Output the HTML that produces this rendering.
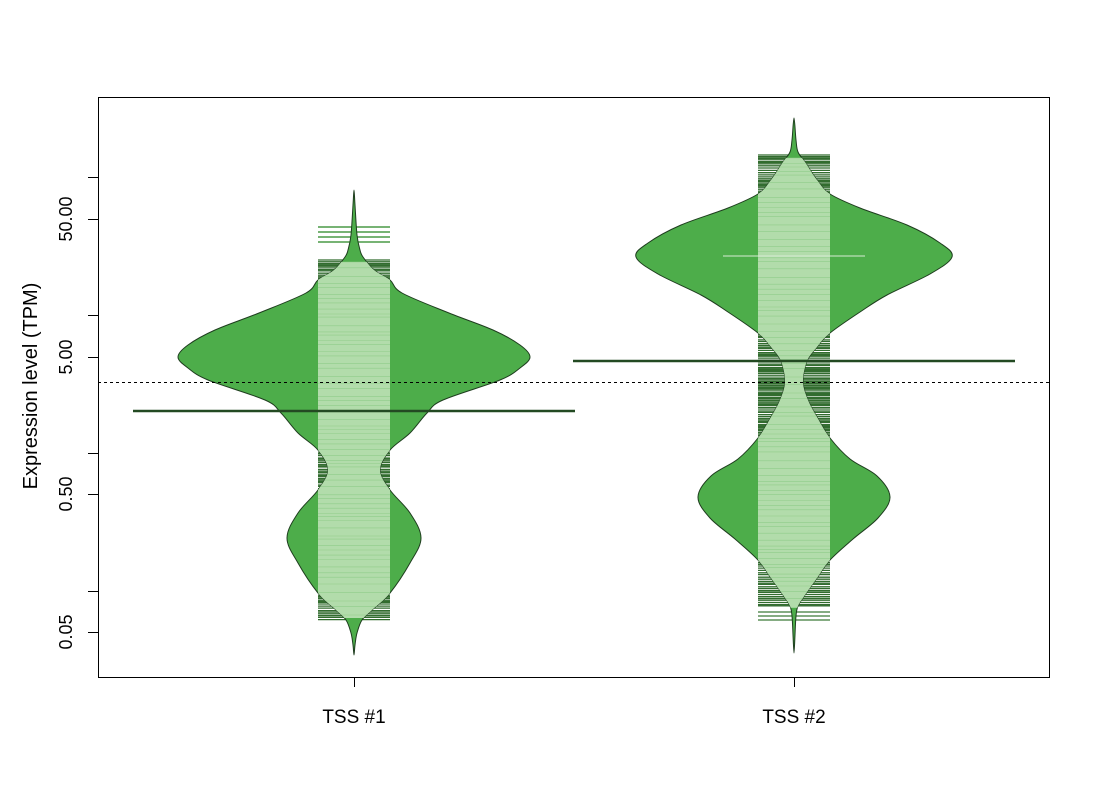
<!DOCTYPE html>
<html><head><meta charset="utf-8"><style>
html,body{margin:0;padding:0;background:#fff;width:1100px;height:800px;overflow:hidden}
svg{display:block}
text{font-family:"Liberation Sans",Arial,sans-serif;fill:#000}
</style></head><body>
<svg id="s" width="1100" height="800" viewBox="0 0 1100 800" xmlns="http://www.w3.org/2000/svg">
<defs>
<clipPath id="c1"><path id="cp1"/></clipPath>
<clipPath id="c2"><path id="cp2"/></clipPath>
</defs>
<g id="dark"></g>
<path id="b1" fill="#4dad4a" stroke="#1e3d1e" stroke-width="1"/>
<path id="b2" fill="#4dad4a" stroke="#1e3d1e" stroke-width="1"/>
<g clip-path="url(#c1)"><rect x="318" y="262" width="72" height="356" fill="#b2dcab"/><g id="l1"></g></g>
<g clip-path="url(#c2)"><rect x="758" y="158" width="72" height="450" fill="#b2dcab"/><g id="l2"></g></g>
<line x1="723" y1="256" x2="865" y2="256" stroke="#d8ecd4" stroke-width="1"/>
<line x1="98" y1="382.5" x2="1049" y2="382.5" stroke="#000" stroke-width="1" stroke-dasharray="3,3"/>
<line x1="133" y1="411" x2="575" y2="411" stroke="#234a22" stroke-width="2.5"/>
<line x1="573" y1="361" x2="1015" y2="361" stroke="#234a22" stroke-width="2.5"/>
<rect x="98.5" y="97.5" width="951" height="580" fill="none" stroke="#000" stroke-width="1"/>
<g stroke="#000" stroke-width="1">
<line x1="88" y1="177.5" x2="98" y2="177.5"/><line x1="88" y1="219.5" x2="98" y2="219.5"/>
<line x1="88" y1="315.5" x2="98" y2="315.5"/><line x1="88" y1="357.5" x2="98" y2="357.5"/>
<line x1="88" y1="453.5" x2="98" y2="453.5"/><line x1="88" y1="494.5" x2="98" y2="494.5"/>
<line x1="88" y1="591.5" x2="98" y2="591.5"/><line x1="88" y1="632.5" x2="98" y2="632.5"/>
<line x1="354.5" y1="677" x2="354.5" y2="687"/><line x1="794.5" y1="677" x2="794.5" y2="687"/>
</g>
<g text-anchor="middle">
<g font-size="18">
<text transform="translate(72,219) rotate(-90)">50.00</text>
<text transform="translate(72,357) rotate(-90)">5.00</text>
<text transform="translate(72,494) rotate(-90)">0.50</text>
<text transform="translate(72,632) rotate(-90)">0.05</text>
</g>
<text font-size="20" transform="translate(37,386) rotate(-90)">Expression level (TPM)</text>
<text font-size="19" x="354" y="723">TSS #1</text>
<text font-size="19" x="794" y="723">TSS #2</text>
</g>
</svg>
<script>
function path(cx,pts){
 var R=pts.map(p=>[cx+p[1],p[0]]), L=pts.slice().reverse().map(p=>[cx-p[1],p[0]]);
 var all=R.concat(L.slice(1,-1));
 var n=all.length, d="M"+all[0][0]+","+all[0][1];
 for(var i=0;i<n;i++){
  var p0=all[(i-1+n)%n],p1=all[i],p2=all[(i+1)%n],p3=all[(i+2)%n];
  var c1=[p1[0]+(p2[0]-p0[0])/6,p1[1]+(p2[1]-p0[1])/6];
  var c2=[p2[0]-(p3[0]-p1[0])/6,p2[1]-(p3[1]-p1[1])/6];
  d+="C"+c1[0].toFixed(1)+","+c1[1].toFixed(1)+" "+c2[0].toFixed(1)+","+c2[1].toFixed(1)+" "+p2[0].toFixed(1)+","+p2[1].toFixed(1);
 }
 return d+"Z";
}
var b1=[[190,0],[205,1],[235,3],[250,6],[257,9],[270,20],[280,36],[293,48],[313,95],[330,139],[345,166],[357,176],[368,166],[380,146],[400,89],[413,73],[433,56],[450,36],[470,26],[490,36],[513,56],[538,67],[563,56],[593,36],[610,18],[620,8],[633,3],[645,1],[655,0]];
var b2=[[118,0],[140,2],[152,4],[162,11],[180,23],[194,36],[208,66],[225,113],[243,146],[257,158],[274,136],[295,93],[312,66],[333,36],[347,23],[361,13],[382,9],[400,14],[417,23],[438,36],[459,56],[476,83],[497,96],[518,84],[539,59],[560,36],[578,23],[595,11],[606,4],[616,2],[635,1],[653,0]];
var d1=path(354,b1),d2=path(794,b2);
["b1","cp1"].forEach(i=>document.getElementById(i).setAttribute("d",d1));
["b2","cp2"].forEach(i=>document.getElementById(i).setAttribute("d",d2));
var NS="http://www.w3.org/2000/svg";
function ln(g,x1,x2,y,c,w){var e=document.createElementNS(NS,"line");e.setAttribute("x1",x1);e.setAttribute("x2",x2);e.setAttribute("y1",y);e.setAttribute("y2",y);e.setAttribute("stroke",c);e.setAttribute("stroke-width",w||1);document.getElementById(g).appendChild(e);}
var seed=7;function rnd(){seed=(seed*9301+49297)%233280;return seed/233280;}
function region(x1,x2,a,b,step){for(var y=a;y<=b;y+=step*(0.6+rnd()*0.9)){ln("dark",x1,x2,y.toFixed(1),"#326c2f",1.3);}}
// bean 1
[227,232,237,242].forEach(y=>ln("dark",318,390,y,"#4a9a46",1.5));
region(318,390,260,292,1.7);region(318,390,446,492,1.6);region(318,390,590,620,1.7);
// bean 2
region(758,830,155,196,1.6);region(758,830,333,452,1.6);region(758,830,556,606,1.7);
[612,616,620].forEach(y=>ln("dark",758,830,y,"#3c7a38",1.2));
// lines inside
for(var y=262;y<618;y+=3+rnd()*6){ln("l1",318,390,y.toFixed(1),"#8fcc8a",0.6);}
for(var y=158;y<608;y+=3+rnd()*6){ln("l2",758,830,y.toFixed(1),"#8fcc8a",0.6);}
</script>
</body></html>
